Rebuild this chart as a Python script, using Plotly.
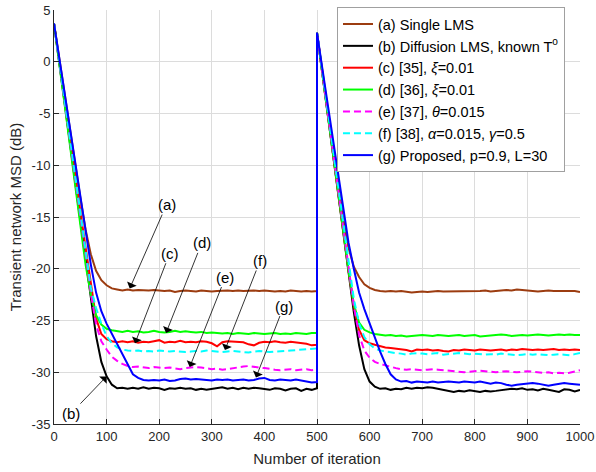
import plotly.graph_objects as go

# ---------------- data ----------------
iter_first = list(range(0, 501, 10))     # iterations 0..500
iter_second = list(range(500, 1001, 10))  # iterations 500..1000 (after the change)

names = [
    "(a) Single LMS",
    "(b) Diffusion LMS, known T<sup>o</sup>",
    "(c) [35], <i>ξ</i>=0.01",
    "(d) [36], <i>ξ</i>=0.01",
    "(e) [37], <i>θ</i>=0.015",
    "(f) [38], <i>α</i>=0.015, <i>γ</i>=0.5",
    "(g) Proposed, p=0.9, L=30",
]

a_first = [3.7, 0.3, -3.1, -6.4, -9.8, -13.1, -16.2, -18.6, -20.2, -21.1,
           -21.6, -21.9, -22.0, -22.1, -22.0, -22.1, -22.05, -22.1, -22.1, -22.05,
           -22.1, -22.15, -22.1, -22.25, -22.15, -22.1, -22.15, -22.2, -22.1, -22.15,
           -22.2, -22.15, -22.1, -22.1, -22.15, -22.1, -22.15, -22.1, -22.1, -22.15,
           -22.1, -22.15, -22.2, -22.15, -22.2, -22.1, -22.15, -22.2, -22.15, -22.2,
           -22.15]
a_second = [2.8, -0.8, -4.5, -8.2, -11.8, -15.2, -18.0, -19.8, -20.8, -21.5,
            -21.85, -22.05, -22.15, -22.2, -22.15, -22.2, -22.15, -22.2, -22.3, -22.25,
            -22.2, -22.25, -22.2, -22.15, -22.2, -22.2, -22.15, -22.2, -22.15, -22.2,
            -22.2, -22.15, -22.1, -22.2, -22.15, -22.1, -22.05, -22.1, -22.0, -22.05,
            -22.1, -22.15, -22.2, -22.15, -22.1, -22.15, -22.15, -22.1, -22.15, -22.15,
            -22.25]

b_first = [3.7, -0.2, -4.0, -7.8, -11.6, -15.3, -19.0, -23.0, -26.5, -29.0,
           -30.4, -31.2, -31.55, -31.5, -31.6, -31.5, -31.6, -31.45, -31.6, -31.5,
           -31.55, -31.7, -31.55, -31.6, -31.5, -31.6, -31.55, -31.7, -31.6, -31.7,
           -31.6, -31.5, -31.45, -31.6, -31.5, -31.65, -31.5, -31.6, -31.5, -31.55,
           -31.6, -31.7, -31.55, -31.6, -31.75, -31.6, -31.55, -31.8, -31.6, -31.7,
           -31.55]
b_second = [2.8, -1.1, -5.0, -8.9, -12.8, -16.7, -20.5, -24.2, -27.4, -29.7,
            -30.9, -31.4, -31.6, -31.55, -31.7, -31.6, -31.65, -31.5, -31.6, -31.5,
            -31.55, -31.45, -31.5, -31.6, -31.7, -31.75, -31.9, -31.8, -31.85, -31.75,
            -31.8, -31.9, -31.8, -31.85, -31.8, -31.75, -31.7, -31.6, -31.65, -31.55,
            -31.7, -31.65, -31.75, -31.6, -31.7, -31.8, -31.9, -31.65, -31.7, -31.85,
            -31.7]

c_first = [3.7, 0.0, -3.6, -7.2, -10.8, -14.4, -17.9, -21.5, -24.8, -26.3,
           -26.8, -27.0, -27.1, -27.0, -27.1, -27.0, -27.15, -27.05, -27.1, -27.0,
           -26.9, -27.15, -27.05, -27.1, -26.95, -27.1, -27.05, -27.1, -27.0, -27.05,
           -27.2, -27.5, -27.1, -27.0, -27.05, -27.1, -27.1, -27.3, -27.4, -27.15,
           -27.05, -27.1, -27.0, -27.1, -27.15, -27.05, -27.1, -27.2, -27.25, -27.4,
           -27.35]
c_second = [2.8, -1.1, -5.0, -8.8, -12.6, -16.4, -20.2, -23.6, -25.9, -26.9,
            -27.2, -27.35, -27.5, -27.6, -27.65, -27.7, -27.8, -27.85, -28.0, -27.8,
            -27.85, -27.8, -27.9, -27.85, -27.95, -28.0, -27.85, -27.9, -27.8, -27.85,
            -27.9, -27.8, -27.85, -27.9, -27.85, -27.8, -27.9, -27.8, -27.85, -27.75,
            -27.8, -27.85, -27.8, -27.85, -27.8, -27.75, -27.85, -27.8, -27.85, -27.8,
            -27.85]

d_first = [3.7, -0.2, -4.1, -8.0, -11.9, -15.9, -19.6, -22.5, -24.5, -25.4,
           -25.8, -25.95, -26.0, -26.1, -26.0, -26.1, -26.05, -26.15, -26.1, -26.0,
           -26.1, -26.15, -26.1, -26.0, -26.1, -26.05, -26.1, -26.15, -26.1, -26.2,
           -26.15, -26.2, -26.25, -26.2, -26.3, -26.2, -26.25, -26.3, -26.2, -26.25,
           -26.3, -26.25, -26.2, -26.3, -26.25, -26.3, -26.2, -26.25, -26.3, -26.2,
           -26.2]
d_second = [2.8, -1.1, -5.0, -8.8, -12.6, -16.4, -20.2, -23.4, -25.2, -25.9,
            -26.15, -26.3, -26.4, -26.45, -26.4, -26.5, -26.45, -26.55, -26.5, -26.45,
            -26.4, -26.45, -26.5, -26.4, -26.45, -26.5, -26.45, -26.4, -26.5, -26.45,
            -26.4, -26.55, -26.5, -26.45, -26.4, -26.35, -26.4, -26.5, -26.45, -26.4,
            -26.45, -26.4, -26.35, -26.4, -26.45, -26.4, -26.35, -26.4, -26.35, -26.4,
            -26.4]

e_first = [3.7, 0.0, -3.7, -7.4, -11.1, -14.8, -18.5, -22.3, -25.4, -27.0,
           -27.8, -28.5, -28.9, -29.2, -29.4, -29.5, -29.45, -29.5, -29.6, -29.5,
           -29.55, -29.6, -29.55, -29.6, -29.7, -29.6, -29.55, -29.5, -29.55, -29.6,
           -29.7, -29.65, -29.75, -29.7, -29.6, -29.5, -29.45, -29.4, -29.5, -29.55,
           -29.6, -29.7, -29.75, -29.8, -29.75, -29.7, -29.8, -29.75, -29.7, -29.8,
           -29.75]
e_second = [2.8, -1.0, -4.8, -8.6, -12.4, -16.2, -20.0, -23.6, -26.4, -27.9,
            -28.6, -29.0, -29.2, -29.35, -29.5, -29.6, -29.7, -29.75, -29.7, -29.75,
            -29.8, -29.75, -29.7, -29.75, -29.8, -29.85, -29.9, -29.95, -30.0, -29.95,
            -29.9, -29.85, -29.9, -29.95, -30.0, -29.95, -29.9, -29.95, -30.0, -29.95,
            -29.9, -29.95, -30.0, -30.05, -30.0, -30.1, -30.05, -30.1, -30.05, -29.9,
            -29.8]

f_first = [3.7, 0.0, -3.7, -7.4, -11.1, -14.8, -18.4, -21.8, -23.8, -25.3,
           -26.5, -27.2, -27.6, -27.8, -27.9, -27.95, -27.9, -28.0, -27.95, -28.0,
           -27.9, -27.95, -28.0, -27.95, -28.0, -28.05, -28.0, -27.95, -28.0, -27.9,
           -27.95, -28.0, -28.05, -28.0, -27.95, -28.0, -28.05, -28.1, -28.0, -27.95,
           -28.0, -28.05, -28.0, -28.0, -27.95, -27.9, -27.85, -27.8, -27.8, -27.75,
           -27.7]
f_second = [2.8, -0.9, -4.6, -8.3, -12.0, -15.7, -19.4, -22.9, -25.3, -26.6,
            -27.3, -27.7, -27.9, -28.0, -28.1, -28.15, -28.2, -28.3, -28.2, -28.15,
            -28.2, -28.25, -28.2, -28.15, -28.3, -28.25, -28.2, -28.15, -28.2, -28.25,
            -28.2, -28.25, -28.3, -28.25, -28.3, -28.2, -28.25, -28.3, -28.35, -28.3,
            -28.25, -28.3, -28.25, -28.3, -28.35, -28.3, -28.25, -28.3, -28.35, -28.25,
            -28.15]

g_first = [3.7, 0.4, -2.9, -6.2, -9.4, -12.7, -16.0, -19.6, -22.3, -24.1,
           -25.3, -26.3, -27.3, -28.3, -29.3, -30.2, -30.55, -30.75, -30.8, -30.75,
           -30.8, -30.7, -30.85, -30.8, -30.65, -30.6, -30.7, -30.65, -30.7, -30.75,
           -30.8, -30.7, -30.75, -30.7, -30.8, -30.75, -30.7, -30.8, -30.75, -30.6,
           -30.55, -30.75, -30.8, -30.7, -30.75, -30.8, -30.7, -30.8, -30.9, -31.0,
           -30.95]
g_second = [2.8, -0.6, -4.0, -7.4, -10.8, -14.2, -17.5, -20.0, -22.3, -23.9,
            -25.3, -26.7, -28.0, -29.2, -30.2, -30.7, -30.9, -30.85, -31.0, -30.9,
            -30.95, -31.0, -30.9, -31.0, -30.95, -30.9, -30.95, -31.0, -30.9, -30.95,
            -31.0, -30.9, -31.0, -31.1, -31.0, -31.05, -31.2, -31.3, -31.2, -31.15,
            -31.1, -31.05, -31.1, -31.2, -31.3, -31.2, -31.1, -31.05, -31.1, -31.15,
            -31.2]

x_tick_vals = [0, 100, 200, 300, 400, 500, 600, 700, 800, 900, 1000]
x_tick_text = ["0", "100", "200", "300", "400", "500", "600", "700", "800", "900", "1000"]
y_tick_vals = [-35, -30, -25, -20, -15, -10, -5, 0, 5]
y_tick_text = ["-35", "-30", "-25", "-20", "-15", "-10", "-5", "0", "5"]

# annotation labels: (label, arrow head iteration, head dB, text iteration, text dB)
labels = ["(a)", "(b)", "(c)", "(d)", "(e)", "(f)", "(g)"]
head_iter = [144, 100, 154, 213, 258, 325, 384]
head_db = [-21.9, -30.4, -27.2, -26.2, -29.5, -27.85, -30.5]
text_iter = [214, 32, 220, 281, 326, 392, 437]
text_db = [-13.8, -34.0, -18.5, -17.5, -20.8, -19.2, -23.6]

# ---------------- styles ----------------
colors = ["#9c3c10", "#000000", "#ff0000", "#00ff00", "#ff00ff", "#00ffff", "#0000ff"]
dashes = ["solid", "solid", "solid", "solid", "7px,4px", "7px,4px", "solid"]
FONT = "Liberation Sans, Arial, Helvetica, sans-serif"

series_first = [a_first, b_first, c_first, d_first, e_first, f_first, g_first]
series_second = [a_second, b_second, c_second, d_second, e_second, f_second, g_second]

fig = go.Figure()
for name, yf, ys, col, dsh in zip(names, series_first, series_second, colors, dashes):
    x = iter_first[:len(yf)] + iter_second[:len(ys)]
    fig.add_trace(go.Scatter(
        x=x, y=yf + ys, mode="lines", name=name,
        line=dict(color=col, width=2, dash=dsh),
    ))

for lab, hx, hy, tx, ty in zip(labels, head_iter, head_db, text_iter, text_db):
    fig.add_annotation(
        x=hx, y=hy, ax=tx, ay=ty, axref="x", ayref="y", xref="x", yref="y",
        text=lab, showarrow=True, arrowhead=1, arrowsize=2.2, arrowwidth=0.8,
        arrowcolor="#000000", standoff=0, startstandoff=0,
        font=dict(family=FONT, size=15, color="#000000"),
    )

axis_common = dict(
    showgrid=True, gridcolor="#dcdcdc", gridwidth=1,
    showline=True, linecolor="#262626", linewidth=1, mirror=False,
    ticks="inside", ticklen=5, tickcolor="#262626", tickwidth=1,
    tickfont=dict(family=FONT, size=13, color="#262626"),
    zeroline=False, automargin=False,
)

fig.update_xaxes(range=[0, 1000], tickmode="array", tickvals=x_tick_vals, ticktext=x_tick_text,
                 title=dict(text="Number of iteration", font=dict(family=FONT, size=15, color="#262626"), standoff=10),
                 **axis_common)
fig.update_yaxes(range=[-35, 5], tickmode="array", tickvals=y_tick_vals, ticktext=y_tick_text,
                 title=dict(text="Transient network MSD (dB)", font=dict(family=FONT, size=15, color="#262626"), standoff=6),
                 **axis_common)

fig.update_layout(
    width=596, height=472,
    margin=dict(l=54, r=16, t=10, b=48, autoexpand=False),
    paper_bgcolor="white", plot_bgcolor="white",
    font=dict(family=FONT, color="#000000"),
    showlegend=True,
    legend=dict(
        xref="container", yref="container",
        x=0.5654, y=0.985, xanchor="left", yanchor="top",
        bgcolor="white", bordercolor="#a0a0a0", borderwidth=1,
        font=dict(family=FONT, size=14.5, color="#000000"),
        tracegroupgap=0, itemwidth=30,
    ),
)

fig.write_html("out.html")
